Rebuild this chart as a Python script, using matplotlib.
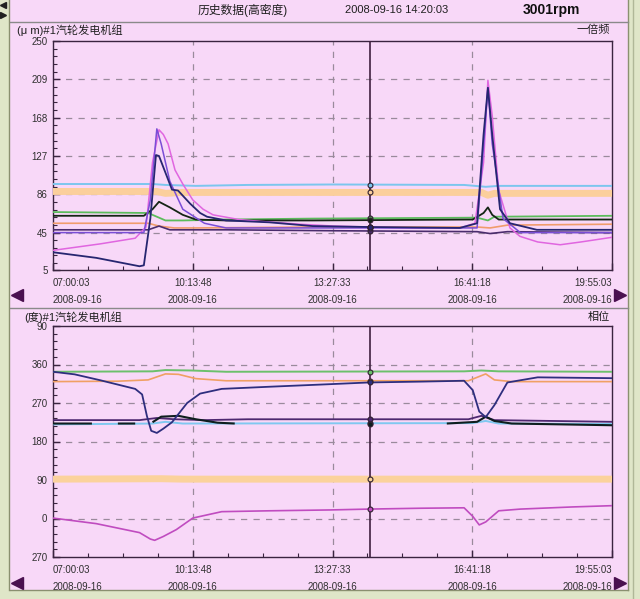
import matplotlib
matplotlib.use('Agg')
import matplotlib.pyplot as plt
import matplotlib.transforms as mtrans
import numpy as np

plt.rcParams['font.family'] = ['Liberation Sans', 'Noto Sans CJK SC', 'DejaVu Sans']

# ---- time axis (hours of day) ----
t_start = 7 + 3 / 3600          # 07:00:03
t_end = 19 + 55 / 60 + 3 / 3600  # 19:55:03
t_cursor = 14 + 20 / 60 + 3 / 3600
time_labels = ['07:00:03', '10:13:48', '13:27:33', '16:41:18', '19:55:03']
date_label = '2008-09-16'

# ---- top panel: 1x amplitude (um) ----
amp_ticks = [5, 45, 86, 127, 168, 209, 250]

amp_cyan = [(7.0, 97), (9.3, 97), (9.6, 96), (10.3, 95), (11.5, 96), (13.5, 96.5),
            (16.5, 96), (17.0, 94), (17.3, 95), (19.92, 95)]
amp_band = [(7.0, 89), (9.4, 89), (9.6, 87), (10.0, 88), (16.9, 88), (17.05, 85),
            (17.2, 87), (19.92, 87)]
amp_green = [(7.0, 67), (9.2, 66), (9.35, 63), (9.6, 58), (10.0, 58), (11.0, 59),
             (13.0, 60), (16.8, 61), (17.05, 58), (17.2, 62), (19.92, 63)]
amp_black = [(7.0, 63), (9.1, 63), (9.3, 70), (9.45, 78), (9.7, 72), (10.0, 64),
             (10.3, 59), (11.0, 58), (13.0, 58), (16.7, 59), (16.95, 66), (17.05, 72),
             (17.15, 64), (17.3, 59), (19.92, 59)]
amp_salmon = [(7.0, 55), (9.2, 55), (9.45, 52), (9.8, 50), (10.3, 50), (13.0, 51),
              (16.8, 51), (17.1, 50), (17.5, 53), (19.92, 54)]
amp_purple = [(7.0, 48), (9.2, 48), (9.45, 52), (9.7, 48), (11.0, 48), (13.5, 47),
              (16.8, 46), (17.1, 44), (17.5, 46), (19.92, 45)]
amp_violet = [(7.0, 45), (9.1, 45), (9.25, 80), (9.4, 156), (9.5, 140), (9.7, 100),
              (10.0, 70), (10.5, 55), (11.0, 50), (16.8, 50), (16.97, 150), (17.05, 200),
              (17.15, 140), (17.4, 60), (17.8, 45), (19.92, 45)]
amp_pink = [(7.0, 26), (8.1, 33), (8.9, 39), (9.15, 51), (9.3, 120), (9.45, 155),
            (9.55, 150), (9.66, 140), (9.82, 112), (10.0, 97), (10.23, 80), (10.47, 70),
            (10.7, 64), (11.3, 59), (11.8, 57), (12.4, 55), (12.7, 54), (13.5, 52),
            (14.3, 51), (15.5, 50), (16.4, 50), (16.75, 55), (16.95, 120), (17.05, 208),
            (17.15, 170), (17.3, 90), (17.56, 50), (17.79, 41), (18.2, 35), (18.72, 32),
            (19.2, 35), (19.92, 40)]
amp_navy = [(7.0, 24), (8.0, 18), (9.0, 9), (9.1, 10), (9.25, 60), (9.38, 128),
            (9.45, 127), (9.55, 115), (9.75, 91), (9.89, 90), (10.17, 76), (10.4, 66),
            (10.56, 62), (11.0, 58), (12.0, 56), (13.0, 52), (14.3, 51), (16.4, 50),
            (16.8, 55), (16.95, 150), (17.05, 200), (17.15, 150), (17.33, 70),
            (17.56, 55), (18.18, 48), (19.92, 48)]

# ---- bottom panel: phase (deg) ----
ph_ticks = [-90, 0, 90, 180, 270, 360, 450]
ph_ticklabels = ['270', '0', '90', '180', '270', '360', '90']

ph_green = [(7.0, 343), (9.3, 344), (9.6, 347), (10.2, 346), (11.0, 343), (16.5, 344),
            (16.9, 346), (17.3, 344), (19.92, 343)]
ph_orange = [(7.0, 320), (8.5, 321), (9.2, 324), (9.6, 338), (9.9, 337), (10.3, 327),
             (11.0, 322), (16.6, 322), (16.85, 332), (17.0, 338), (17.2, 324),
             (17.6, 320), (19.92, 320)]
ph_navy = [(7.0, 343), (7.5, 337), (8.1, 323), (8.9, 303), (9.06, 290), (9.17, 240),
           (9.27, 205), (9.4, 200), (9.55, 210), (9.75, 225), (10.1, 270), (10.4, 292),
           (10.9, 303), (12.0, 308), (13.4, 314), (14.3, 318), (15.5, 320), (16.5, 322),
           (16.7, 300), (16.85, 250), (17.0, 237), (17.2, 265), (17.5, 318), (18.2, 330),
           (19.92, 328)]
ph_purple = [(7.0, 230), (9.0, 230), (9.4, 235), (9.8, 232), (10.5, 230), (11.5, 232),
             (16.6, 232), (16.9, 240), (17.2, 230), (19.92, 226)]
ph_cyan = [(7.0, 220), (9.3, 222), (9.6, 226), (10.0, 222), (16.7, 223), (17.0, 228),
           (17.3, 222), (19.92, 221)]
ph_black = [(7.0, 222), (7.9, 222), (7.95, np.nan), (8.5, 222), (8.9, 222), (8.95, np.nan),
            (9.3, 225), (9.5, 238), (9.9, 240), (10.3, 232), (10.8, 224), (11.2, 222),
            (11.25, np.nan), (16.1, 222), (16.8, 226), (17.0, 238), (17.2, 228),
            (17.6, 222), (19.92, 218)]
ph_band = [(7.0, 92), (9.5, 93), (10.0, 92), (19.92, 92)]
ph_pink = [(7.0, 1), (8.0, -12), (9.0, -33), (9.25, -48), (9.35, -51), (9.55, -42),
           (9.85, -26), (10.23, 1), (10.9, 16), (12.0, 18), (13.4, 20), (14.3, 22),
           (15.5, 24), (16.5, 25), (16.7, 5), (16.85, -15), (17.0, -8), (17.3, 18),
           (17.8, 22), (19.0, 27), (19.92, 30)]

pink_bg = '#f8d8f8'
border = '#dfe6c8'
dark = '#3a2440'

top_series = [
    (amp_band, '#fbcf9c', 5.0),
    (amp_cyan, '#7cc6ee', 1.4),
    (amp_salmon, '#f09c6c', 1.2),
    (amp_green, '#5cbc5c', 1.3),
    (amp_purple, '#4a2c6c', 1.2),
    (amp_black, '#152515', 1.3),
    (amp_pink, '#e066e0', 1.1),
    (amp_violet, '#7a4ed6', 1.1),
    (amp_navy, '#262670', 1.3),
]
bottom_series = [
    (ph_band, '#fbd29c', 5.0),
    (ph_green, '#6cc06c', 1.4),
    (ph_orange, '#f0a064', 1.2),
    (ph_cyan, '#80c8f0', 1.4),
    (ph_purple, '#4e2870', 1.3),
    (ph_black, '#0e1e1e', 1.5),
    (ph_navy, '#2e2e7e', 1.3),
    (ph_pink, '#c04cc0', 1.2),
]


def draw_panel(ax, series, ylim, yticks, yticklabels, grid_y):
    ax.set_facecolor(pink_bg)
    ax.set_xlim(t_start, t_end)
    ax.set_ylim(*ylim)
    for pts, color, lw in series:
        arr = np.array(pts, dtype=float)
        ax.plot(arr[:, 0], arr[:, 1], color=color, lw=lw, solid_capstyle='butt', zorder=3)

    major_x = np.linspace(t_start, t_end, 5)
    ax.set_xticks(major_x)
    ax.set_xticks(np.linspace(t_start, t_end, 17), minor=True)
    ax.set_xticklabels([])
    ax.set_yticks(yticks)
    ax.set_yticklabels(yticklabels, fontsize=7, color='#303030')
    # labels sit a little below their tick, as in the original screen
    shift = mtrans.ScaledTranslation(0, -2.5 / 72, ax.figure.dpi_scale_trans)
    for lab in ax.get_yticklabels():
        lab.set_transform(lab.get_transform() + shift)
    minor_y = []
    for a, b in zip(yticks[:-1], yticks[1:]):
        minor_y += list(np.linspace(a, b, 6)[1:-1])
    ax.set_yticks(minor_y, minor=True)
    ax.tick_params(which='both', direction='in', color=dark, top=False, right=False)
    ax.tick_params(which='major', length=5, width=1, pad=4)
    ax.tick_params(which='minor', length=3, width=0.8)
    for sp in ax.spines.values():
        sp.set_color(dark)
        sp.set_linewidth(1.0)

    for xv in major_x[1:-1]:
        ax.axvline(xv, color='#9a8a9c', lw=0.9, ls=(0, (5, 5)), zorder=1)
    for yv in grid_y:
        ax.axhline(yv, color='#9a8a9c', lw=0.9, ls=(0, (5, 5)), zorder=1)

    # cursor line and dots
    ax.axvline(t_cursor, color='#402040', lw=1.2, zorder=4)
    for pts, color, lw in series:
        arr = np.array(pts, dtype=float)
        ok = ~np.isnan(arr[:, 1])
        yv = np.interp(t_cursor, arr[ok, 0], arr[ok, 1])
        ax.plot([t_cursor], [yv], 'o', ms=3.5, mfc=color, mec='#302030', mew=0.8, zorder=5)

    # two-line time labels
    for i, (xv, lab) in enumerate(zip(major_x, time_labels)):
        ha = 'left' if i == 0 else ('right' if i == len(major_x) - 1 else 'center')
        ax.annotate(lab, (xv, 0), xycoords=('data', 'axes fraction'), xytext=(0, -9.5),
                    textcoords='offset points', ha=ha, va='center', fontsize=7,
                    color='#303030', annotation_clip=False)
        ax.annotate(date_label, (xv, 0), xycoords=('data', 'axes fraction'),
                    xytext=(0, -21.5), textcoords='offset points', ha=ha, va='center',
                    fontsize=7, color='#303030', annotation_clip=False)


fig = plt.figure(figsize=(6.4, 5.99), dpi=100)
fig.patch.set_facecolor(border)

# background / frame in pixel coordinates
bg = fig.add_axes([0, 0, 1, 1])
bg.set_xlim(0, 640)
bg.set_ylim(599, 0)
bg.axis('off')
bg.add_patch(plt.Rectangle((10, 0), 618, 590, facecolor=pink_bg, edgecolor='none'))
bg.plot([9, 9], [0, 590], color='#8a9070', lw=1)
bg.plot([628, 628], [0, 590], color='#8a9070', lw=1)
bg.plot([633, 633], [0, 599], color='#b0b898', lw=1)
bg.plot([10, 628], [590, 590], color='#8a9070', lw=1)
bg.plot([10, 628], [22, 22], color='#8a8a8a', lw=1)
bg.plot([10, 628], [308, 308], color='#8a8a8a', lw=1)
bg.plot([3], [5], marker='<', ms=4, color='#202020')
bg.plot([3], [15], marker='>', ms=4, color='#202020')
for yy in (295, 583):
    bg.plot([17], [yy], marker='<', ms=9, color='#4a1050')
    bg.plot([620], [yy], marker='>', ms=9, color='#4a1050')

bg.text(243, 10, '历史数据(高密度)', ha='center', va='center', fontsize=8.5, color='#202020')
bg.text(397, 10, '2008-09-16 14:20:03', ha='center', va='center', fontsize=8, color='#202020')
bg.text(551, 10, '3001rpm', ha='center', va='center', fontsize=10, fontweight='bold',
        color='#101010')
bg.text(17, 30, '(μ m)#1汽轮发电机组', ha='left', va='center', fontsize=8, color='#202020')
bg.text(610, 30, '一倍频', ha='right', va='center', fontsize=8, color='#202020')
bg.text(24, 317, '(度)#1汽轮发电机组', ha='left', va='center', fontsize=8, color='#202020')
bg.text(610, 317, '相位', ha='right', va='center', fontsize=8, color='#202020')

ax1 = fig.add_axes([53 / 640, 1 - 270 / 599, 559 / 640, 229 / 599])
draw_panel(ax1, top_series, (5, 250), amp_ticks, [str(v) for v in amp_ticks],
           amp_ticks[1:-1])

ax2 = fig.add_axes([53 / 640, 1 - 557 / 599, 559 / 640, 231 / 599])
draw_panel(ax2, bottom_series, (-90, 450), ph_ticks, ph_ticklabels, ph_ticks[1:-1])

fig.savefig('out.png', dpi=100, facecolor=fig.get_facecolor())
